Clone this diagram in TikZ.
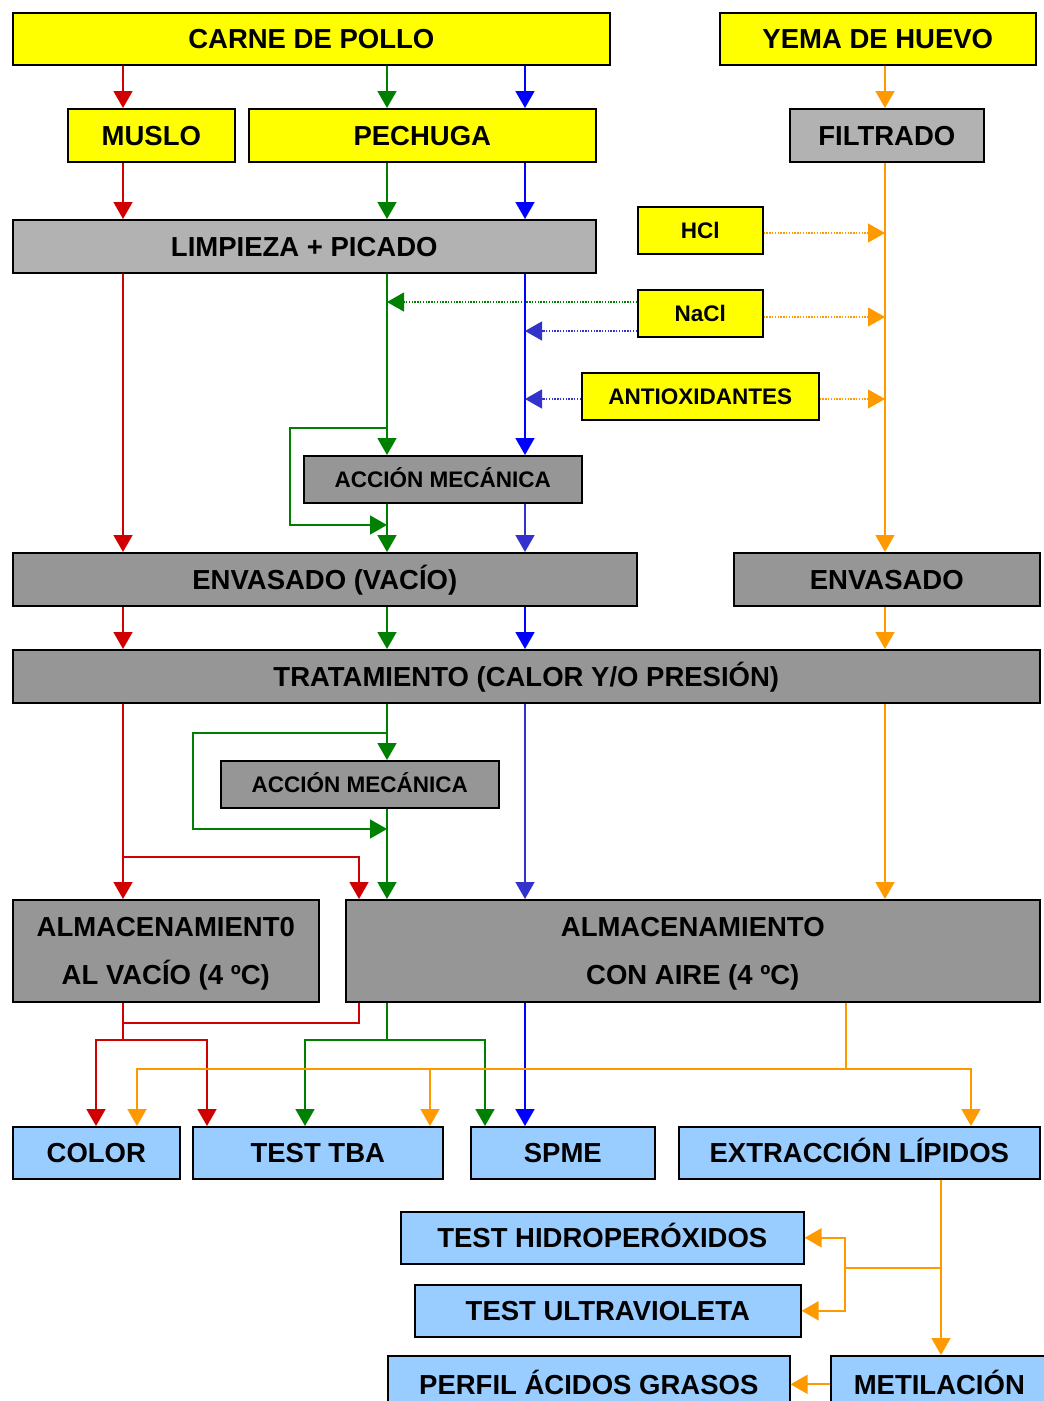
\documentclass[tikz,border=0pt]{standalone}
\usepackage{fontspec}
\setmainfont{Liberation Sans}
\usetikzlibrary{arrows.meta}
\definecolor{cyel}{HTML}{FFFF00}
\definecolor{clgray}{HTML}{B2B2B2}
\definecolor{cdgray}{HTML}{969696}
\definecolor{clblue}{HTML}{99CCFF}
\definecolor{cred}{HTML}{D00000}
\definecolor{cgreen}{HTML}{008000}
\definecolor{cblue}{HTML}{0000FF}
\definecolor{cblue2}{HTML}{3333CC}
\definecolor{corange}{HTML}{FF9900}
\tikzset{
  bxbase/.style={draw=black, line width=1.6pt, inner sep=0pt, anchor=north west, align=center,
    font=\fontsize{27.5}{48}\selectfont\bfseries},
  bx/.style={bxbase, text height=19.7pt, text depth=0pt},
  ybox/.style={bx, fill=cyel},
  ysbox/.style={bx, fill=cyel, font=\fontsize{22.5}{26}\selectfont\bfseries, text height=16.1pt},
  lbox/.style={bx, fill=clgray},
  dbox/.style={bx, fill=cdgray},
  dmbox/.style={bxbase, fill=cdgray, text depth=0pt},
  dsbox/.style={bx, fill=cdgray, font=\fontsize{22.5}{26}\selectfont\bfseries, text height=16.1pt},
  bbox/.style={bx, fill=clblue},
  ln/.style={line width=1.8pt},
  ar/.style={ln, -{Triangle[length=17pt,width=19pt]}},
  dt/.style={line width=1.2pt, dash pattern=on 1.4pt off 1.4pt, -{Triangle[length=17pt,width=19pt]}},
  ra/.style={ar, color=cred}, rl/.style={ln, color=cred},
  ga/.style={ar, color=cgreen}, gl/.style={ln, color=cgreen}, gd/.style={dt, color=cgreen},
  ba/.style={ar, color=cblue}, bba/.style={ar, color=cblue2}, bd/.style={dt, color=cblue2},
  oa/.style={ar, color=corange}, ol/.style={ln, color=corange}, od/.style={dt, color=corange},
}
\newcommand\mkbox[7]{\node[#1, minimum width={(#5-#3)*1pt}, minimum height={(#6-#4)*1pt}] (#2) at (#3,#4) {#7};}
\begin{document}
\begin{tikzpicture}[x=1pt,y=-1pt]
\useasboundingbox (0,0) rectangle (1044,1401);
\clip (0,0) rectangle (1044,1401);
% boxes
\mkbox{ybox}{carne}{12}{12}{609}{64}{CARNE DE POLLO}
\mkbox{ybox}{yema}{719}{12}{1035}{64}{YEMA DE HUEVO}
\mkbox{ybox}{muslo}{67}{108}{234}{161}{MUSLO}
\mkbox{ybox}{pech}{248}{108}{595}{161}{PECHUGA}
\mkbox{lbox}{filt}{789}{108}{983}{161}{FILTRADO}
\mkbox{lbox}{limp}{12}{219}{595}{272}{LIMPIEZA + PICADO}
\mkbox{ysbox}{hcl}{637}{206}{762}{253}{HCl}
\mkbox{ysbox}{nacl}{637}{289}{762}{336}{NaCl}
\mkbox{ysbox}{anti}{581}{372}{818}{419}{ANTIOXIDANTES}
\mkbox{dsbox}{acc1}{303}{455}{581}{502}{ACCIÓN MECÁNICA}
\mkbox{dbox}{envv}{12}{552}{636}{605}{ENVASADO (VACÍO)}
\mkbox{dbox}{envo}{733}{552}{1039}{605}{ENVASADO}
\mkbox{dbox}{trat}{12}{649}{1039}{702}{TRATAMIENTO (CALOR Y/O PRESIÓN)}
\mkbox{dsbox}{acc2}{220}{760}{498}{807}{ACCIÓN MECÁNICA}
\mkbox{dmbox}{almv}{12}{899}{318}{1001}{ALMACENAMIENT0\\AL VACÍO (4 ºC)}
\mkbox{dmbox}{alma}{345}{899}{1039}{1001}{ALMACENAMIENTO\\CON AIRE (4 ºC)}
\mkbox{bbox}{color}{12}{1126}{179}{1178}{COLOR}
\mkbox{bbox}{tba}{192}{1126}{442}{1178}{TEST TBA}
\mkbox{bbox}{spme}{470}{1126}{654}{1178}{SPME}
\mkbox{bbox}{ext}{678}{1126}{1039}{1178}{EXTRACCIÓN LÍPIDOS}
\mkbox{bbox}{hidro}{400}{1211}{803}{1263}{TEST HIDROPERÓXIDOS}
\mkbox{bbox}{ultra}{414}{1284}{800}{1336}{TEST ULTRAVIOLETA}
\mkbox{bbox}{perfil}{387}{1355}{789}{1412}{PERFIL ÁCIDOS GRASOS}
\mkbox{bbox}{met}{830}{1355}{1047}{1412}{METILACIÓN}
% column coordinates
\coordinate (xR) at (123,0);
\coordinate (xR2) at (359,0);
\coordinate (xG) at (387,0);
\coordinate (xB) at (525,0);
\coordinate (xO) at (885,0);
\coordinate (xO2) at (846,0);
\coordinate (xO3) at (941,0);
\coordinate (xc1) at (96,0);
\coordinate (xc2) at (207,0);
\coordinate (xg1) at (305,0);
\coordinate (xg2) at (485,0);
\coordinate (xo1) at (137,0);
\coordinate (xo2) at (430,0);
\coordinate (xo3) at (971,0);
% red
\draw[ra] (carne.south -| xR) -- (muslo.north -| xR);
\draw[ra] (muslo.south -| xR) -- (limp.north -| xR);
\draw[ra] (limp.south -| xR) -- (envv.north -| xR);
\draw[ra] (envv.south -| xR) -- (trat.north -| xR);
\draw[ra] (trat.south -| xR) -- (almv.north -| xR);
\coordinate (rk) at (123,857);
\draw[ra] (rk) -| (alma.north -| xR2);
\coordinate (rb) at (123,1040);
\coordinate (rb2) at (123,1023);
\draw[rl] (alma.south -| xR2) |- (rb2);
\draw[ra] (almv.south -| xR) -- (rb) -| (color.north -| xc1);
\draw[ra] (rb) -| (tba.north -| xc2);
% green
\draw[ga] (carne.south -| xG) -- (pech.north -| xG);
\draw[ga] (pech.south -| xG) -- (limp.north -| xG);
\draw[ga] (limp.south -| xG) -- (acc1.north -| xG);
\coordinate (gk1) at (387,428);
\coordinate (gm1) at (387,525);
\draw[ga] (gk1) -- (290,428) |- (gm1);
\draw[ga] (acc1.south -| xG) -- (envv.north -| xG);
\draw[ga] (envv.south -| xG) -- (trat.north -| xG);
\draw[ga] (trat.south -| xG) -- (acc2.north -| xG);
\coordinate (gk2) at (387,733);
\coordinate (gm2) at (387,829);
\draw[ga] (gk2) -- (193,733) |- (gm2);
\draw[ga] (acc2.south -| xG) -- (alma.north -| xG);
\coordinate (gb) at (387,1040);
\draw[gl] (alma.south -| xG) -- (gb);
\draw[ga] (gb) -| (tba.north -| xg1);
\draw[ga] (gb) -| (spme.north -| xg2);
\coordinate (gdot) at (387,302);
\draw[gd] (nacl.west |- gdot) -- (gdot);
% blue
\draw[ba] (carne.south -| xB) -- (pech.north -| xB);
\draw[ba] (pech.south -| xB) -- (limp.north -| xB);
\draw[ba] (limp.south -| xB) -- (acc1.north -| xB);
\draw[bba] (acc1.south -| xB) -- (envv.north -| xB);
\draw[ba] (envv.south -| xB) -- (trat.north -| xB);
\draw[bba] (trat.south -| xB) -- (alma.north -| xB);
\draw[ba] (alma.south -| xB) -- (spme.north -| xB);
\coordinate (bdot1) at (525,331);
\draw[bd] (nacl.west |- bdot1) -- (bdot1);
\coordinate (bdot2) at (525,399);
\draw[bd] (anti.west |- bdot2) -- (bdot2);
% orange
\draw[oa] (yema.south -| xO) -- (filt.north -| xO);
\draw[oa] (filt.south -| xO) -- (envo.north -| xO);
\draw[oa] (envo.south -| xO) -- (trat.north -| xO);
\draw[oa] (trat.south -| xO) -- (alma.north -| xO);
\coordinate (od1) at (885,233);
\coordinate (od2) at (885,317);
\coordinate (od3) at (885,399);
\draw[od] (hcl.east |- od1) -- (od1);
\draw[od] (nacl.east |- od2) -- (od2);
\draw[od] (anti.east |- od3) -- (od3);
\coordinate (ob) at (846,1069);
\draw[ol] (alma.south -| xO2) -- (ob);
\draw[oa] (ob) -| (color.north -| xo1);
\draw[oa] (ob) -| (tba.north -| xo2);
\draw[oa] (ob) -| (ext.north -| xo3);
\coordinate (oj) at (941,1268);
\coordinate (ok) at (845,1268);
\draw[oa] (ext.south -| xO3) -- (met.north -| xO3);
\draw[oa] (oj) -- (ok) |- (hidro.east);
\draw[oa] (ok) |- (ultra.east);
\draw[oa] (met.west) -- (perfil.east);
\end{tikzpicture}
\end{document}
